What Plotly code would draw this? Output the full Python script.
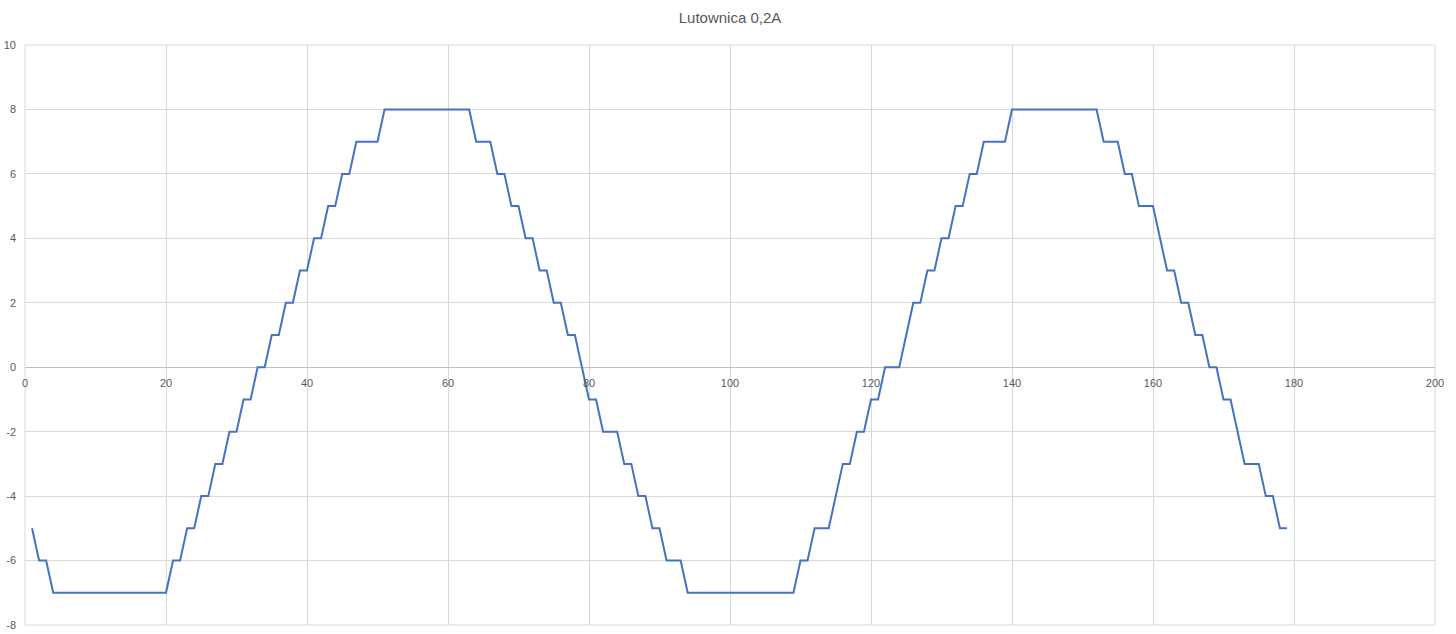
import plotly.graph_objects as go

title_text = "Lutownica 0,2A"

x_values = list(range(1, 180))

y_values = [
    -5,
    -6, -6,
    -7, -7, -7, -7, -7, -7, -7, -7, -7, -7, -7, -7, -7, -7, -7, -7, -7,
    -6, -6,
    -5, -5,
    -4, -4,
    -3, -3,
    -2, -2,
    -1, -1,
    0, 0,
    1, 1,
    2, 2,
    3, 3,
    4, 4,
    5, 5,
    6, 6,
    7, 7, 7, 7,
    8, 8, 8, 8, 8, 8, 8, 8, 8, 8, 8, 8, 8,
    7, 7, 7,
    6, 6,
    5, 5,
    4, 4,
    3, 3,
    2, 2,
    1, 1,
    0,
    -1, -1,
    -2, -2, -2,
    -3, -3,
    -4, -4,
    -5, -5,
    -6, -6, -6,
    -7, -7, -7, -7, -7, -7, -7, -7, -7, -7, -7, -7, -7, -7, -7, -7,
    -6, -6,
    -5, -5, -5,
    -4,
    -3, -3,
    -2, -2,
    -1, -1,
    0, 0, 0,
    1,
    2, 2,
    3, 3,
    4, 4,
    5, 5,
    6, 6,
    7, 7, 7, 7,
    8, 8, 8, 8, 8, 8, 8, 8, 8, 8, 8, 8, 8,
    7, 7, 7,
    6, 6,
    5, 5, 5,
    4,
    3, 3,
    2, 2,
    1, 1,
    0, 0,
    -1, -1,
    -2,
    -3, -3, -3,
    -4, -4,
    -5, -5,
]

x_range = [0, 200]
y_range = [-8, 10]
x_tick_values = [0, 20, 40, 60, 80, 100, 120, 140, 160, 180, 200]
y_tick_values = [-8, -6, -4, -2, 0, 2, 4, 6, 8, 10]
y_tick_labels = ["-8", "-6", "-4", "-2", "0", "2", "4", "6", "8", "10"]

font_family = "Liberation Sans, Arial, sans-serif"
text_color = "#595959"
grid_color = "#d9d9d9"

fig = go.Figure()
fig.add_trace(go.Scatter(
    x=x_values, y=y_values, mode="lines",
    line=dict(color="#4472C4", width=2),
    hoverinfo="x+y", showlegend=False,
))

zero_pos = (0 - y_range[0]) / (y_range[1] - y_range[0])

fig.add_shape(type="rect", xref="paper", yref="paper", x0=0, x1=1, y0=0, y1=1,
              line=dict(color=grid_color, width=1), layer="below")

fig_w, fig_h = 1456, 634
ml, mr, mt, mb = 25, 21, 45, 9

fig.update_layout(
    width=fig_w, height=fig_h,
    margin=dict(l=ml, r=mr, t=mt, b=mb, autoexpand=False),
    paper_bgcolor="white", plot_bgcolor="white",
    title=dict(text=title_text, x=(ml + (fig_w - mr - ml) / 2) / fig_w, xanchor="center",
               y=1 - 18 / fig_h, yref="container", yanchor="middle",
               font=dict(family=font_family, size=15, color=text_color)),
    font=dict(family=font_family, size=11, color=text_color),
    xaxis=dict(
        range=x_range, tickvals=x_tick_values, showgrid=True, gridcolor=grid_color,
        gridwidth=1, zeroline=False, showline=False, ticks="",
        anchor="free", position=zero_pos, automargin=False, ticklabelstandoff=8,
        tickfont=dict(family=font_family, size=11, color=text_color),
    ),
    yaxis=dict(
        range=y_range, tickvals=y_tick_values, ticktext=y_tick_labels,
        showgrid=True, gridcolor=grid_color,
        gridwidth=1, zeroline=True, zerolinecolor="#bfbfbf", zerolinewidth=1,
        showline=False, ticks="", ticklabelstandoff=8, automargin=False,
        tickfont=dict(family=font_family, size=11, color=text_color),
    ),
)

fig.write_html("out.html", config={"displayModeBar": False},
               post_script="document.body.style.margin='0px';")
